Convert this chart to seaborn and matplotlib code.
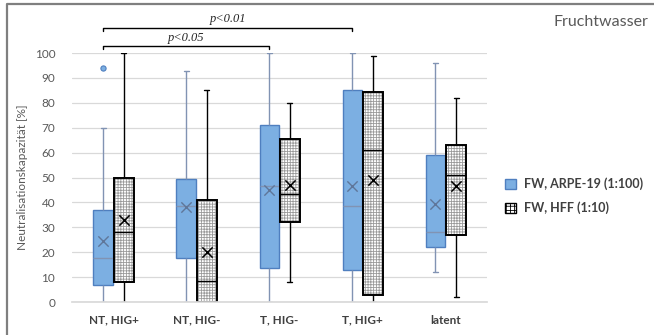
import numpy as np
import pandas as pd
import matplotlib
matplotlib.use("Agg")
import matplotlib.pyplot as plt
from matplotlib.patches import Patch, PathPatch
from matplotlib.lines import Line2D
import seaborn as sns

# ---------------------------------------------------------------------------
# DATA (five-number summaries: min, q1, median, q3, max)
# ---------------------------------------------------------------------------
groups = ["NT, HIG+", "NT, HIG-", "T, HIG-", "T, HIG+", "latent"]
series = ["FW, ARPE-19 (1:100)", "FW, HFF (1:10)"]

arpe_stats = [
    [0, 7, 17.5, 37, 70],
    [0, 17.5, 38.5, 49.5, 93],
    [0, 13.5, 46.5, 71, 100],
    [0, 13, 38.5, 85, 100],
    [12, 22, 28, 59, 96],
]
hff_stats = [
    [0, 8, 28, 50, 100],
    [0, 0, 8.5, 41, 85],
    [8, 32, 43.5, 65.5, 80],
    [0, 3, 61, 84.5, 99],
    [2, 27, 51, 63, 82],
]
arpe_means = [24.5, 38, 45, 46.5, 39.5]
hff_means = [33, 20, 47, 49, 46.5]
arpe_outliers = {"NT, HIG+": [94]}

brackets = [("p<0.05", 0, 2), ("p<0.01", 0, 3)]

BLUE = "#7cafe2"
BLUE_EDGE = "#4f7fbf"
BLUE_WHISK = "#8193b3"
HATCH_GRAY = "#9a9a9a"
GRID = "#d9d9d9"
TXT = "#595959"

rows = []
for g, a, h in zip(groups, arpe_stats, hff_stats):
    for v in a:
        rows.append({"group": g, "series": series[0], "value": v})
    for v in h:
        rows.append({"group": g, "series": series[1], "value": v})
df = pd.DataFrame(rows)

sns.set_theme(style="white")
plt.rcParams["font.family"] = ["Lato", "DejaVu Sans"]
plt.rcParams["hatch.linewidth"] = 0.6

fig = plt.figure(figsize=(6.54, 3.35), dpi=100)
ax = fig.add_axes([0.110, 0.0985, 0.635, 0.743])

WIDTH, GAP = 0.5, 0.07
sns.boxplot(data=df, x="group", y="value", hue="series", order=groups,
            hue_order=series, palette=[BLUE, "white"], saturation=1,
            width=WIDTH, gap=GAP, whis=np.inf, fliersize=0, linewidth=1.0,
            ax=ax, legend=False)

for cont in ax.containers:
    is_blue = cont.boxes[0].get_facecolor()[2] < 0.95
    lines = list(cont.whiskers) + list(cont.caps) + list(cont.medians)
    for box in cont.boxes:
        if is_blue:
            box.set_edgecolor(BLUE_EDGE)
        else:
            # gray checker fill, black outline drawn on top from the same path
            box.set_edgecolor(HATCH_GRAY)
            box.set_hatch("++++++")
            box.set_linewidth(0)
            ax.add_patch(PathPatch(box.get_path(), transform=box.get_transform(),
                                   fill=False, edgecolor="black", linewidth=1.4,
                                   zorder=box.get_zorder() + 0.1))
    for ln in lines:
        ln.set_color(BLUE_WHISK if is_blue else "black")
        if not is_blue:
            ln.set_zorder(ln.get_zorder() + 0.2)
    for cap in cont.caps:
        c = np.mean(cap.get_xdata())
        cap.set_xdata([c - 0.03, c + 0.03])

# means and outliers at the dodged positions
off = WIDTH / 4
xs = np.arange(len(groups))
ax.scatter(xs - off, arpe_means, marker="x", s=55, color="#5f7699", linewidths=1.0, zorder=5)
ax.scatter(xs + off, hff_means, marker="x", s=55, color="black", linewidths=1.1, zorder=5)
for g, vals in arpe_outliers.items():
    i = groups.index(g)
    ax.scatter([i - off] * len(vals), vals, s=14, color=BLUE, edgecolor=BLUE_EDGE,
               linewidths=0.8, zorder=5)

ax.set_xlim(-0.5, len(groups) - 0.5)
ax.set_ylim(0, 100)
ax.set_yticks(range(0, 101, 10))
ax.grid(axis="y", color=GRID, linewidth=0.9)
ax.set_axisbelow(True)
for s in ["left", "right", "top"]:
    ax.spines[s].set_visible(False)
ax.spines["bottom"].set_color(GRID)
ax.tick_params(axis="y", length=0, labelsize=8.5, labelcolor=TXT, pad=12)
ax.tick_params(axis="x", length=0, labelsize=8.5, labelcolor="#404040", pad=9)
for lab in ax.get_xticklabels():
    lab.set_fontweight("bold")
ax.set_xlabel("")
ax.set_ylabel("Neutralisationskapazität [%]", fontsize=8.5, color=TXT, labelpad=5)

# significance brackets
for k, (txt, i0, i1) in enumerate(brackets):
    yb = 102.8 + 7.4 * k
    ax.plot([i0 - off, i0 - off, i1 - off, i1 - off], [yb - 1.2, yb, yb, yb - 1.2],
            color="black", linewidth=1.0, clip_on=False)
    ax.text((i0 + i1) / 2 - off, yb + 0.9, txt, ha="center", va="bottom",
            fontsize=9, style="italic", family="Liberation Serif", clip_on=False)

handles = [Patch(facecolor=BLUE, edgecolor=BLUE_EDGE, label=series[0]),
           Patch(facecolor="white", edgecolor="black", hatch="++++", label=series[1])]
leg = fig.legend(handles=handles, loc="center left", bbox_to_anchor=(0.755, 0.415),
                 frameon=False, fontsize=9, handlelength=0.9, handleheight=0.9,
                 handletextpad=0.6, labelspacing=0.9)
for t in leg.get_texts():
    t.set_fontweight("bold")
    t.set_color("#404040")

fig.text(0.991, 0.935, "Fruchtwasser", ha="right", va="center", fontsize=11.5, color=TXT)

# chart border
fig.add_artist(Line2D([0.0107, 0.0107, 1.0], [0.0, 0.988, 0.988], transform=fig.transFigure,
                      color="#7f7f7f", linewidth=1.6))

fig.savefig("out.png", dpi=100)
